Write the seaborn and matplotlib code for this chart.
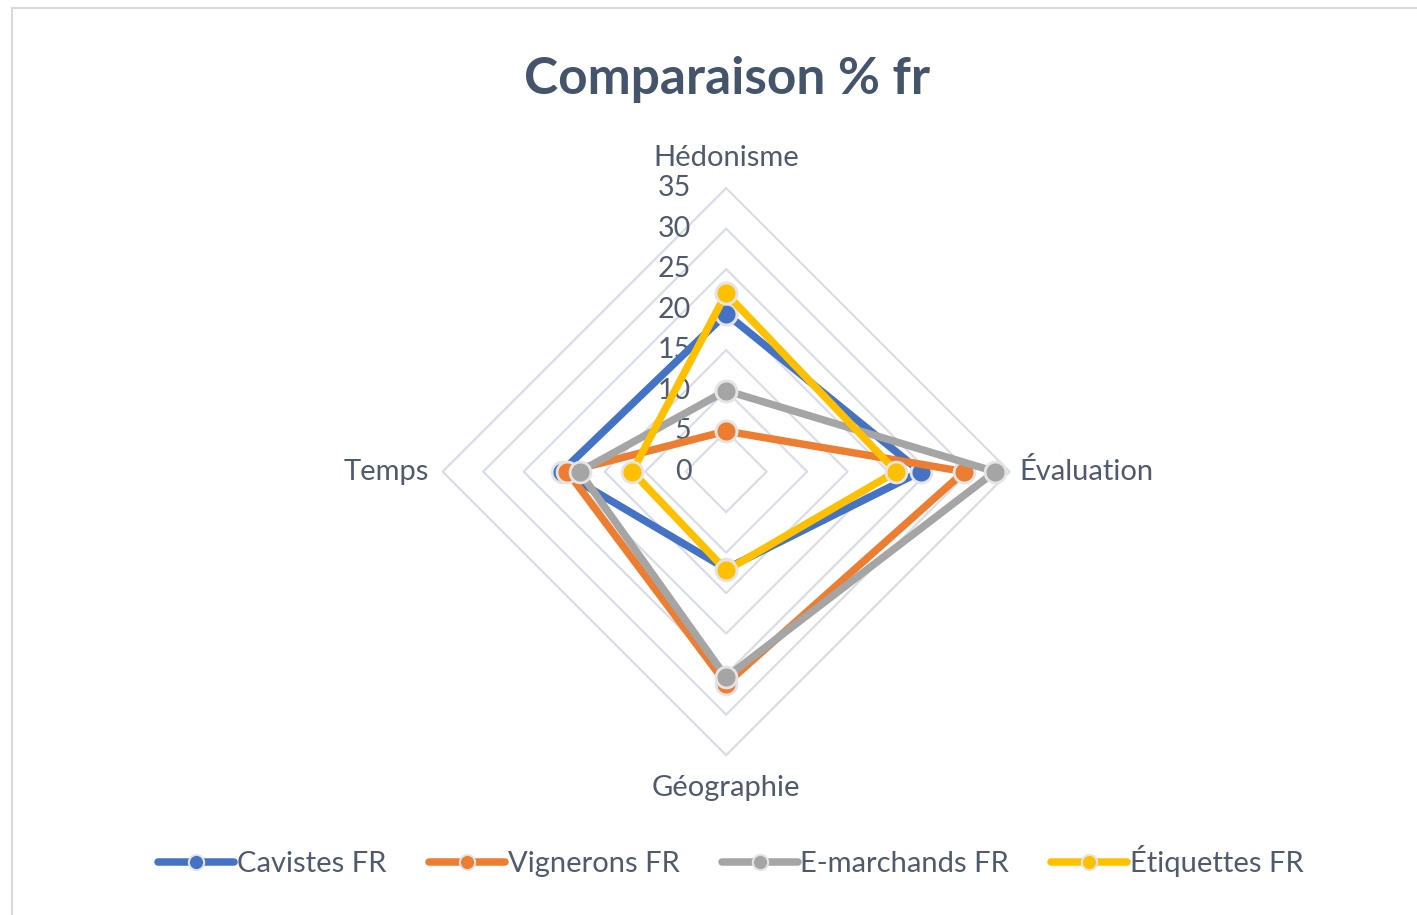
"""
Radar chart: Comparaison % fr.
"""
import numpy as np
import pandas as pd
import matplotlib.pyplot as plt
import seaborn as sns
from matplotlib.lines import Line2D
from matplotlib.patches import Rectangle

axes_labels = ['Hédonisme', 'Évaluation', 'Géographie', 'Temps']
series_names = ['Cavistes FR', 'Vignerons FR', 'E-marchands FR', 'Étiquettes FR']
cavistes = [19.5, 24, 12, 20.3]
vignerons = [5, 29.4, 26.2, 19.6]
emarchands = [10, 33.2, 25.4, 18.1]
etiquettes = [22, 21, 12.2, 11.6]
ticks = [0, 5, 10, 15, 20, 25, 30, 35]

colors = ['#4472C4', '#ED7D31', '#A5A5A5', '#FFC000']
text_color = '#4f5b6c'

sns.set_theme(style='white')
plt.rcParams['font.family'] = ['Lato', 'DejaVu Sans']

# clockwise from the top
angles = np.pi / 2 - np.arange(len(axes_labels)) * 2 * np.pi / len(axes_labels)


def to_xy(values):
    r = np.asarray(values + values[:1], dtype=float)
    a = np.concatenate([angles, angles[:1]])
    return r * np.cos(a), r * np.sin(a)


rows = []
for name, vals in zip(series_names, [cavistes, vignerons, emarchands, etiquettes]):
    x, y = to_xy(vals)
    for i, (xi, yi) in enumerate(zip(x, y)):
        rows.append({'series': name, 'order': i, 'x': xi, 'y': yi})
df = pd.DataFrame(rows)

fig = plt.figure(figsize=(14.17, 9.15), dpi=100)
ax = fig.add_axes([0.2552, 0.0862, 0.5145, 0.7967])
ax.set_xlim(-45, 45)
ax.set_ylim(-45, 45)
ax.set_aspect('equal')
ax.axis('off')

# diamond grid
for t in ticks[1:]:
    gx, gy = to_xy([t] * len(axes_labels))
    ax.plot(gx, gy, color='#d9dde6', lw=1.6, zorder=1)

for name, color in zip(series_names, colors):
    sub = df[df['series'] == name]
    sns.lineplot(data=sub, x='x', y='y', sort=False, estimator=None, ax=ax,
                 color=color, lw=5.4, marker='o', markersize=15,
                 markeredgecolor='#e4e4e4', markeredgewidth=2,
                 legend=False, zorder=3)

# tick labels along the top spoke
for t in ticks:
    ax.text(-4.3, t, str(t), ha='right', va='center', fontsize=20.5,
            color=text_color, zorder=2)

ax.text(0, 38.7, axes_labels[0], ha='center', va='center', fontsize=21, color=text_color)
ax.text(36.2, 0, axes_labels[1], ha='left', va='center', fontsize=21, color=text_color)
ax.text(0, -39.1, axes_labels[2], ha='center', va='center', fontsize=21, color=text_color)
ax.text(-36.7, 0, axes_labels[3], ha='right', va='center', fontsize=21, color=text_color)

fig.suptitle('Comparaison % fr', x=0.513, y=0.913, va='center', fontsize=37,
             fontweight='bold', color='#44546A')

handles = [Line2D([], [], color=c, lw=5.4, marker='o', markersize=11,
                  markeredgecolor='#e4e4e4', markeredgewidth=1.5)
           for c in colors]
ax.legend(handles, series_names, loc='center', bbox_to_anchor=(0.516, 0.059),
          bbox_transform=fig.transFigure, ncol=4, frameon=False,
          fontsize=21, handlelength=2.6, handletextpad=0.1,
          columnspacing=1.45, labelcolor=text_color)

fig.patches.append(Rectangle((12 / 1417, -0.05), 1.1, 1.05 - 8 / 915,
                             transform=fig.transFigure, fill=False,
                             edgecolor='#d9d9d9', lw=1.5))

plt.savefig('out.png', dpi=100)
plt.close()
